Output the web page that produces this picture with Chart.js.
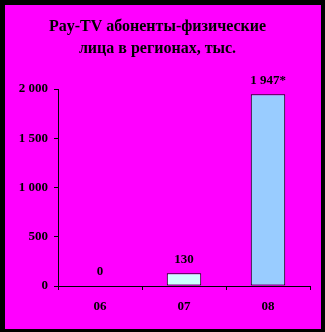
<!DOCTYPE html>
<html>
<head>
<meta charset="utf-8">
<script src="https://cdn.jsdelivr.net/npm/chart.js@4"></script>
<style>
    html, body { margin: 0; padding: 0; background: #000; }
    #box {
        position: absolute;
        left: 5px;
        top: 5px;
        width: 316px;
        height: 324px;
        background: #ff00ff;
    }
</style>
</head>
<body>
<div id="box"><canvas id="myChart" width="316" height="324"></canvas></div>
<script>
// Data
const years = ["06", "07", "08"];
const subscribers = [0, 130, 1947];
const valueLabels = ["0", "130", "1 947*"];
const barColors = ["#ccffff", "#ccffff", "#99ccff"];
const yTicks = [0, 500, 1000, 1500, 2000];

const serif = "'Liberation Serif', 'Times New Roman', serif";

// Value labels above the bars
const valueLabelPlugin = {
    id: "valueLabels",
    afterDatasetsDraw(chart) {
        const ctx = chart.ctx;
        const meta = chart.getDatasetMeta(0);
        ctx.save();
        ctx.font = "bold 13px " + serif;
        ctx.fillStyle = "#000";
        ctx.textAlign = "center";
        ctx.textBaseline = "middle";
        meta.data.forEach((bar, i) => {
            ctx.fillText(valueLabels[i], bar.x, bar.y - 14);
        });
        ctx.restore();
    }
};

const ctx = document.getElementById("myChart").getContext("2d");
const chart = new Chart(ctx, {
    type: "bar",
    data: {
        labels: years,
        datasets: [{
            data: subscribers,
            backgroundColor: barColors,
            borderColor: "#000",
            borderWidth: 1,
            borderSkipped: false,
            barPercentage: 0.41,
            categoryPercentage: 1
        }]
    },
    options: {
        responsive: false,
        animation: false,
        layout: { padding: { left: 0, right: 11, top: 0, bottom: 0 } },
        plugins: {
            legend: { display: false },
            tooltip: { enabled: false },
            title: {
                display: true,
                text: ["Pay-TV абоненты-физические", "лица в регионах, тыс."],
                color: "#000",
                font: { family: serif, size: 16, weight: "bold", lineHeight: 22 / 16 },
                padding: { top: 11, bottom: 29 }
            }
        },
        scales: {
            x: {
                grid: { drawOnChartArea: false, drawTicks: true, tickLength: 4, color: "#000" },
                border: { color: "#000", width: 1 },
                ticks: { color: "#000", font: { family: serif, size: 13, weight: "bold" }, padding: 9 },
                afterFit(scale) { scale.height = 43; }
            },
            y: {
                min: 0,
                max: 2000,
                afterBuildTicks(scale) { scale.ticks = yTicks.map(v => ({ value: v })); },
                grid: { drawOnChartArea: false, drawTicks: true, tickLength: 4, color: "#000" },
                border: { color: "#000", width: 1 },
                ticks: {
                    color: "#000",
                    font: { family: serif, size: 13, weight: "bold" },
                    padding: 6,
                    callback: v => v.toLocaleString("en-US").replace(",", " ")
                },
                afterFit(scale) { scale.width = 53; }
            }
        }
    },
    plugins: [valueLabelPlugin]
});
</script>
</body>
</html>
